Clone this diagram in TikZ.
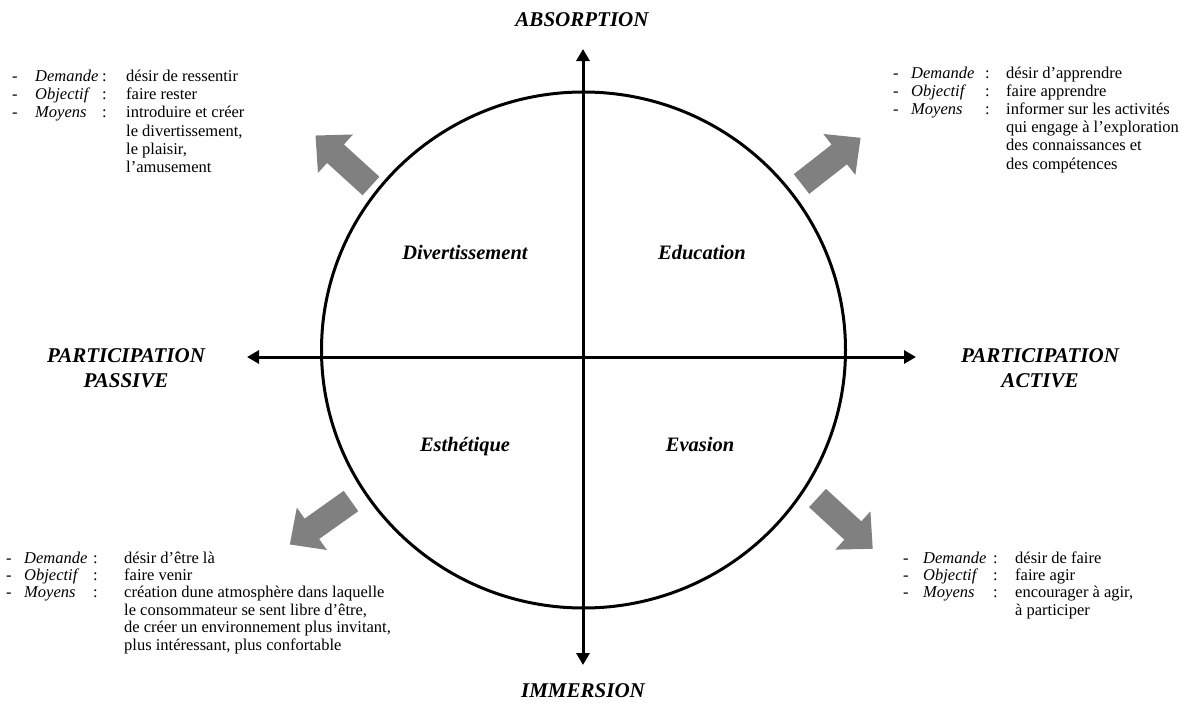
\documentclass[tikz,border=0pt]{standalone}
\usepackage{fontspec}
\setmainfont{Liberation Serif}
\usepackage{array}
\usetikzlibrary{arrows.meta}
\definecolor{arrowgray}{RGB}{128,128,128}

\tikzset{
  axisline/.style={line width=3pt,
    {Triangle[length=12pt,width=13pt]}-{Triangle[length=12pt,width=13pt]}},
  ring/.style={line width=3pt},
  pole/.style={font=\fontsize{21}{25}\selectfont\bfseries\itshape, inner sep=0pt, anchor=base},
  quad/.style={font=\fontsize{20.5}{24}\selectfont\bfseries\itshape, inner sep=0pt, anchor=base},
  infotop/.style={font=\fontsize{16.5}{18.2}\selectfont, inner sep=0pt, anchor=base west},
  infobot/.style={font=\fontsize{16.5}{17.4}\selectfont, inner sep=0pt, anchor=base west},
  blockarrow/.pic={
    \fill[arrowgray] (0,-12.5) -- (48,-12.5) -- (48,-26) -- (75,0)
      -- (48,26) -- (48,12.5) -- (0,12.5) -- cycle;}
}

\begin{document}
\begin{tikzpicture}[x=1pt,y=-1pt]
\useasboundingbox (0,0) rectangle (1195,702);

% circle and the two axes
\coordinate (centre) at (583.5,350);
\draw[ring] (centre) ellipse [x radius=262, y radius=258];

\coordinate (axN) at (583,49);
\coordinate (axS) at (583,665);
\coordinate (axW) at (247,357);
\coordinate (axE) at (916,357);
\draw[axisline] (axS) -- (axN);
\draw[axisline] (axW) -- (axE);

% axis labels
\node[pole] (absorption) at (582,26.5) {ABSORPTION};
\node[pole] (immersion) at (583,697) {IMMERSION};
\node[pole] (passive) at (126,362)
  {\begin{tabular}[t]{@{}c@{}}PARTICIPATION\\PASSIVE\end{tabular}};
\node[pole] (active) at (1040,362)
  {\begin{tabular}[t]{@{}c@{}}PARTICIPATION\\ACTIVE\end{tabular}};

% quadrant names
\node[quad] (divert) at (465,259) {Divertissement};
\node[quad] (educ) at (702,259) {Education};
\node[quad] (esth) at (465,451) {Esthétique};
\node[quad] (evas) at (700,451) {Evasion};

% outward block arrows
\pic[rotate=137.7] at (371,186) {blockarrow};
\pic[rotate=38] at (801.5,184) {blockarrow};
\pic[rotate=215.4] at (351,501) {blockarrow};
\pic[rotate=-42.6] at (817.5,498) {blockarrow};

% descriptions
\node[infotop] (infoTL) at (12,81.5) {%
\begin{tabular}[t]{@{}p{23pt}@{}>{\itshape}p{67pt}@{}p{24pt}@{}l@{}}
- & Demande & : & désir de ressentir\\
- & Objectif & : & faire rester\\
- & Moyens & : & introduire et créer\\
  & & & le divertissement,\\
  & & & le plaisir,\\
  & & & l’amusement
\end{tabular}};

\node[infotop] (infoTR) at (893,78) {%
\begin{tabular}[t]{@{}p{18pt}@{}>{\itshape}p{74pt}@{}p{21pt}@{}l@{}}
- & Demande & : & désir d’apprendre\\
- & Objectif & : & faire apprendre\\
- & Moyens & : & informer sur les activités\\
  & & & qui engage à l’exploration\\
  & & & des connaissances et\\
  & & & des compétences
\end{tabular}};

\node[infobot] (infoBL) at (6,563) {%
\begin{tabular}[t]{@{}p{18pt}@{}>{\itshape}p{69pt}@{}p{31pt}@{}l@{}}
- & Demande & : & désir d’être là\\
- & Objectif & : & faire venir\\
- & Moyens & : & création dune atmosphère dans laquelle\\
  & & & le consommateur se sent libre d’être,\\
  & & & de créer un environnement plus invitant,\\
  & & & plus intéressant, plus confortable
\end{tabular}};

\node[infobot] (infoBR) at (903,563) {%
\begin{tabular}[t]{@{}p{20pt}@{}>{\itshape}p{70pt}@{}p{22pt}@{}l@{}}
- & Demande & : & désir de faire\\
- & Objectif & : & faire agir\\
- & Moyens & : & encourager à agir,\\
  & & & à participer
\end{tabular}};
\end{tikzpicture}
\end{document}
